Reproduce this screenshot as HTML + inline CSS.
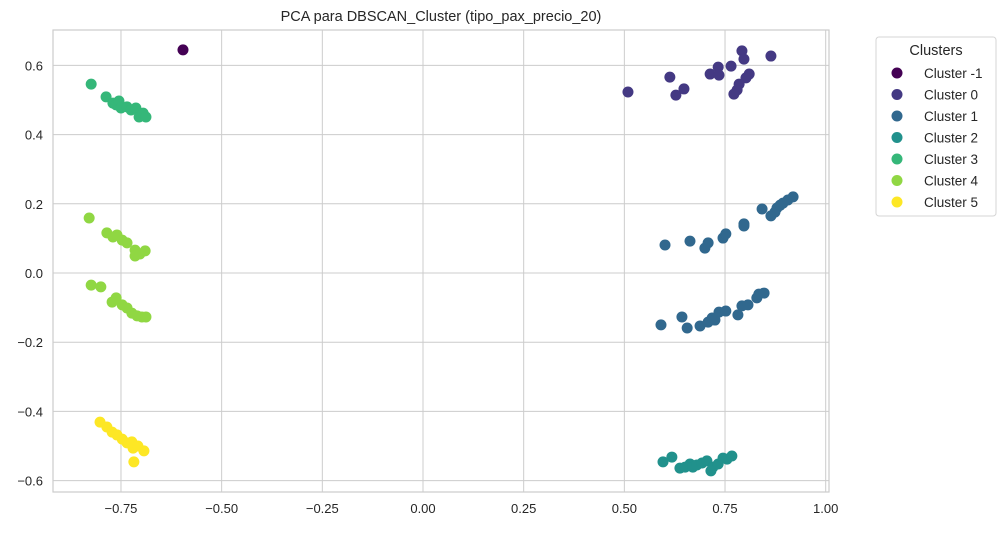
<!DOCTYPE html>
<html><head><meta charset="utf-8">
<style>
body{margin:0;background:#fff;font-family:"Liberation Sans","DejaVu Sans",sans-serif;}
svg text{font-family:"Liberation Sans","DejaVu Sans",sans-serif;fill:#262626;}
</style></head>
<body>
<svg id="chart" width="1006" height="529" viewBox="0 0 1006 529"></svg>
<script>
const clusterNames = ["Cluster -1","Cluster 0","Cluster 1","Cluster 2","Cluster 3","Cluster 4","Cluster 5"];
const clusterColors = ["#440154","#443983","#31688e","#21918c","#35b779","#90d743","#fde725"];
const xTicks = [-0.75,-0.5,-0.25,0,0.25,0.5,0.75,1.0];
const xTickLabels = ["−0.75","−0.50","−0.25","0.00","0.25","0.50","0.75","1.00"];
const yTicks = [-0.6,-0.4,-0.2,0,0.2,0.4,0.6];
const yTickLabels = ["−0.6","−0.4","−0.2","0.0","0.2","0.4","0.6"];
const cm1X = [-0.596];
const cm1Y = [0.645];
const c0X = [0.509,0.613,0.628,0.648,0.713,0.733,0.735,0.765,0.792,0.797,0.864,0.810,0.802,0.785,0.780,0.772];
const c0Y = [0.523,0.566,0.514,0.532,0.575,0.595,0.572,0.598,0.642,0.618,0.627,0.575,0.564,0.546,0.529,0.517];
const c1X = [0.601,0.663,0.700,0.708,0.745,0.752,0.797,0.797,0.842,0.864,0.874,0.879,0.887,0.894,0.906,0.919,
             0.591,0.643,0.656,0.688,0.708,0.718,0.725,0.735,0.752,0.782,0.792,0.807,0.829,0.834,0.847];
const c1Y = [0.081,0.092,0.072,0.087,0.101,0.113,0.142,0.136,0.185,0.165,0.176,0.188,0.196,0.202,0.211,0.220,
             -0.150,-0.127,-0.159,-0.153,-0.142,-0.130,-0.136,-0.113,-0.110,-0.121,-0.095,-0.092,-0.072,-0.061,-0.058];
const c2X = [0.596,0.618,0.638,0.651,0.663,0.670,0.680,0.693,0.705,0.715,0.720,0.733,0.745,0.755,0.767];
const c2Y = [-0.546,-0.532,-0.564,-0.561,-0.552,-0.561,-0.555,-0.549,-0.543,-0.572,-0.561,-0.552,-0.535,-0.538,-0.529];
const c3X = [-0.824,-0.787,-0.770,-0.762,-0.755,-0.750,-0.735,-0.725,-0.713,-0.705,-0.695,-0.688];
const c3Y = [0.546,0.509,0.491,0.486,0.497,0.477,0.480,0.471,0.477,0.451,0.462,0.451];
const c4X = [-0.829,-0.785,-0.770,-0.760,-0.747,-0.735,-0.715,-0.715,-0.703,-0.690,
             -0.824,-0.800,-0.772,-0.762,-0.747,-0.735,-0.723,-0.710,-0.698,-0.688];
const c4Y = [0.159,0.116,0.104,0.110,0.095,0.087,0.066,0.049,0.055,0.064,
             -0.035,-0.040,-0.084,-0.072,-0.092,-0.101,-0.116,-0.124,-0.127,-0.127];
const c5X = [-0.802,-0.785,-0.772,-0.760,-0.747,-0.735,-0.723,-0.720,-0.708,-0.693,-0.718];
const c5Y = [-0.431,-0.445,-0.460,-0.468,-0.480,-0.491,-0.488,-0.506,-0.500,-0.514,-0.546];
const seriesX = [cm1X,c0X,c1X,c2X,c3X,c4X,c5X];
const seriesY = [cm1Y,c0Y,c1Y,c2Y,c3Y,c4Y,c5Y];

const NS="http://www.w3.org/2000/svg";
const svg=document.getElementById('chart');
const L=53,R=829,T=30,B=492;
function sx(v){return 423+402.7*v;}
function sy(v){return 273-346*v;}
function mk(tag,attrs,parent){const e=document.createElementNS(NS,tag);for(const k in attrs)e.setAttribute(k,attrs[k]);(parent||svg).appendChild(e);return e;}

const grid=mk('g',{});


xTicks.forEach((t,i)=>{
  const ln=mk('line',{x1:sx(t),x2:sx(t),y1:T,y2:B,stroke:'#cccccc','stroke-width':1},grid);
  
  
  const tx=mk('text',{x:sx(t),y:B+21,'text-anchor':'middle','font-size':13});
  tx.textContent=xTickLabels[i];
  
  
});
yTicks.forEach((t,i)=>{
  const ln=mk('line',{x1:L,x2:R,y1:sy(t),y2:sy(t),stroke:'#cccccc','stroke-width':1},grid);
  
  
  const tx=mk('text',{x:L-10,y:sy(t)+5,'text-anchor':'end','font-size':13});
  tx.textContent=yTickLabels[i];
  
  
});
const frame=mk('rect',{x:L,y:T,width:R-L,height:B-T,fill:'none',stroke:'#cccccc','stroke-width':1.2});



seriesX.forEach((xs,s)=>{
  const g=mk('g',{});
  
  
  xs.forEach((xv,i)=>{
    const c=mk('circle',{cx:sx(xv),cy:sy(seriesY[s][i]),r:5.5,fill:clusterColors[s]},g);
    
    
  });
});

const title=mk('text',{x:441,y:21,'text-anchor':'middle','font-size':14.5});
title.textContent='PCA para DBSCAN_Cluster (tipo_pax_precio_20)';



const lg=mk('g',{});


const lbox=mk('rect',{x:876,y:37,width:120,height:179,rx:3,fill:'#fff',stroke:'#d5d5d5'},lg);


const lt=mk('text',{x:936,y:55,'text-anchor':'middle','font-size':14.5},lg);
lt.textContent='Clusters';


clusterNames.forEach((n,i)=>{
  const y=73+21.5*i;
  const c=mk('circle',{cx:897,cy:y,r:5.5,fill:clusterColors[i]},lg);
  
  
  const t=mk('text',{x:924,y:y+5,'font-size':13.5},lg);
  t.textContent=n;
  
  
});
</script>
</body></html>
